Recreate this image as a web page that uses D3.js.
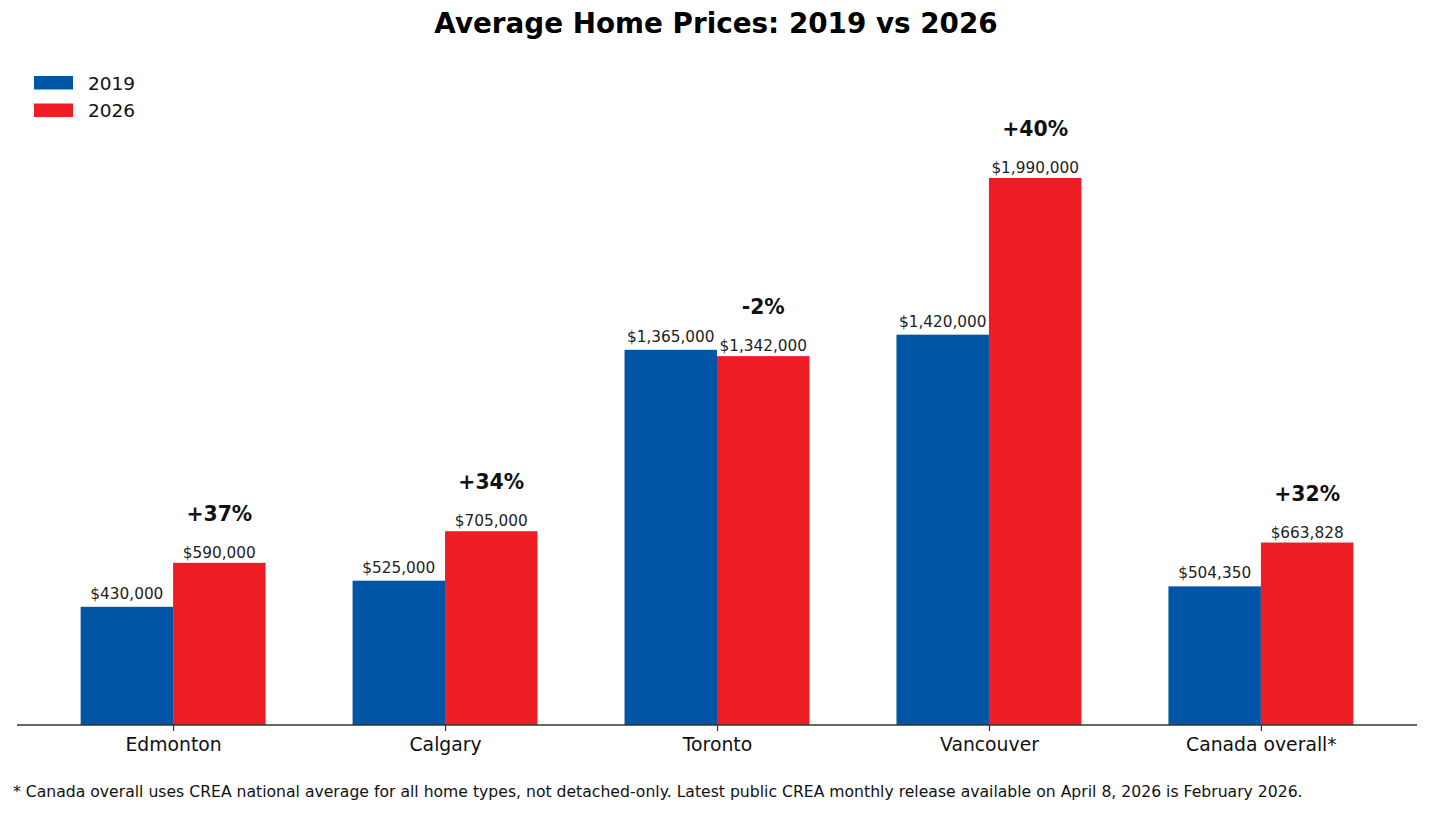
<!DOCTYPE html>
<html>
<head>
<meta charset="utf-8">
<script src="https://cdn.jsdelivr.net/npm/d3@7"></script>
<style>
  html, body { margin: 0; padding: 0; background: #fff; }
  svg { display: block; font-family: "DejaVu Sans", sans-serif; }
</style>
</head>
<body>
<svg id="chart" width="1430" height="815"></svg>
<script>
// chart data
var cities = ["Edmonton", "Calgary", "Toronto", "Vancouver", "Canada overall*"];
var prices2019 = [430000, 525000, 1365000, 1420000, 504350];
var prices2026 = [590000, 705000, 1342000, 1990000, 663828];
var changeLabels = ["+37%", "+34%", "-2%", "+40%", "+32%"];
var seriesNames = ["2019", "2026"];
var seriesColors = ["#0055a4", "#ee1c25"];

var W = 1430, H = 815;
var plot = { left: 17, right: 1417, baseline: 725, top: 178 };
var barWidth = 0.34;

var svg = d3.select("#chart");

// x scale in "category units", matplotlib-like margins
var xMin = -barWidth - 0.05 * (cities.length - 1 + 2 * barWidth);
var xMax = cities.length - 1 + barWidth + 0.05 * (cities.length - 1 + 2 * barWidth);
var x = d3.scaleLinear().domain([xMin, xMax]).range([plot.left, plot.right]);

var y = d3.scaleLinear()
  .domain([0, d3.max(prices2019.concat(prices2026))])
  .range([plot.baseline, plot.top]);

var fmt = function (v) { return "$" + d3.format(",")(v); };

var rows = cities.map(function (c, i) {
  return { city: c, i: i, v: [prices2019[i], prices2026[i]], change: changeLabels[i] };
});

// bars
var groups = svg.selectAll(".city")
  .data(rows)
  .enter()
  .append("g")
  .attr("class", "city");

groups.selectAll("rect")
  .data(function (d) {
    return d.v.map(function (v, s) { return { i: d.i, s: s, v: v }; });
  })
  .enter()
  .append("rect")
  .attr("x", function (d) { return x(d.i + (d.s === 0 ? -barWidth : 0)); })
  .attr("width", function (d) { return x(barWidth) - x(0); })
  .attr("y", function (d) { return y(d.v); })
  .attr("height", function (d) { return y(0) - y(d.v); })
  .attr("fill", function (d) { return seriesColors[d.s]; });

// value labels (2019 ones sit a little higher)
groups.selectAll(".value")
  .data(function (d) {
    return d.v.map(function (v, s) { return { i: d.i, s: s, v: v }; });
  })
  .enter()
  .append("text")
  .attr("class", "value")
  .attr("x", function (d) { return x(d.i + (d.s === 0 ? -barWidth / 2 : barWidth / 2)); })
  .attr("y", function (d) { return y(d.v) - (d.s === 0 ? 8 : 5); })
  .attr("text-anchor", "middle")
  .attr("font-size", "15.3px")
  .attr("fill", "#222")
  .text(function (d) { return fmt(d.v); });

// percentage change, above the 2026 bar
groups.append("text")
  .attr("x", function (d) { return x(d.i + barWidth / 2); })
  .attr("y", function (d) { return y(d.v[1]) - 42; })
  .attr("text-anchor", "middle")
  .attr("font-size", "20.4px")
  .attr("font-weight", "bold")
  .attr("fill", "#111")
  .text(function (d) { return d.change; });

// x axis
var xAxis = d3.axisBottom(x)
  .tickValues(d3.range(cities.length))
  .tickFormat(function (d) { return cities[d]; })
  .tickSize(6)
  .tickPadding(6);

var axisG = svg.append("g")
  .attr("transform", "translate(0," + plot.baseline + ")")
  .call(xAxis);

axisG.select(".domain")
  .attr("d", "M" + plot.left + ",0H" + plot.right)
  .attr("stroke", "#333")
  .attr("stroke-width", 1.3);
axisG.selectAll(".tick line").attr("stroke", "#333").attr("stroke-width", 1.2);
axisG.selectAll(".tick text")
  .attr("font-family", "DejaVu Sans, sans-serif")
  .attr("font-size", "18.8px")
  .attr("fill", "#111")
  .attr("dy", null)
  .attr("y", 26);

// title
svg.append("text")
  .attr("x", W / 2 + 1)
  .attr("y", 33)
  .attr("text-anchor", "middle")
  .attr("font-size", "27.8px")
  .attr("font-weight", "bold")
  .attr("fill", "#000")
  .text("Average Home Prices: 2019 vs 2026");

// legend
var legend = svg.append("g").attr("transform", "translate(34,76)");
var items = legend.selectAll("g")
  .data(seriesNames)
  .enter()
  .append("g")
  .attr("transform", function (d, i) { return "translate(0," + i * 27.5 + ")"; });
items.append("rect")
  .attr("width", 39)
  .attr("height", 13.5)
  .attr("fill", function (d, i) { return seriesColors[i]; });
items.append("text")
  .attr("x", 54)
  .attr("y", 13.5)
  .attr("font-size", "18.5px")
  .attr("fill", "#111")
  .text(function (d) { return d; });

// footnote
svg.append("text")
  .attr("x", 13)
  .attr("y", 796.5)
  .attr("font-size", "15.65px")
  .attr("fill", "#111")
  .text("* Canada overall uses CREA national average for all home types, not detached-only. Latest public CREA monthly release available on April 8, 2026 is February 2026.");
</script>
</body>
</html>
